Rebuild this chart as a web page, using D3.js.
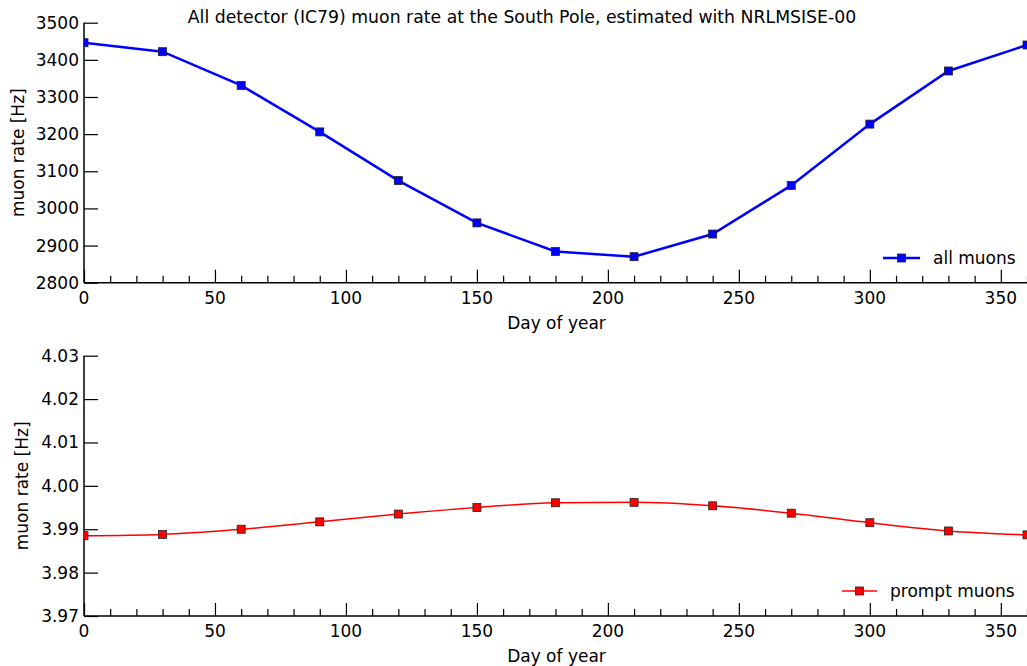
<!DOCTYPE html>
<html>
<head>
<meta charset="utf-8">
<script src="https://cdn.jsdelivr.net/npm/d3@7"></script>
<style>
  body { margin: 0; background: #fff; }
  text { font-family: "DejaVu Sans", sans-serif; fill: #000; font-size: 17px; }
</style>
</head>
<body>
<svg id="chart" width="1027" height="666"></svg>
<script>
const days = [ 0, 30, 60, 90, 120, 150, 180, 210, 240, 270, 300, 330, 360 ];
const allMuons = [ 3446, 3422, 3331, 3206, 3075, 2961, 2884, 2870, 2931, 3062, 3227, 3370, 3440 ];
const promptMuons = [ 3.9885, 3.9888, 3.9900, 3.9917, 3.9935, 3.9950, 3.9961, 3.9962, 3.9954, 3.9937, 3.9915, 3.9896, 3.9887 ];
const xTicks = [ 0, 50, 100, 150, 200, 250, 300, 350 ];
const topTicks = [ 2800, 2900, 3000, 3100, 3200, 3300, 3400, 3500 ];
const bottomTicks = [ 3.97, 3.98, 3.99, 4.00, 4.01, 4.02, 4.03 ];

const svg = d3.select( "#chart" );
const LEFT = 84;
const RIGHT = 1027;

const panels = [
  {
    top: 22.7, bottom: 282.7, domain: [ 2800, 3500 ], ticks: topTicks, fmt: d3.format( "d" ),
    values: allMuons, color: "#0000ff", width: 2.5, curve: d3.curveLinear,
    label: "all muons", legendX: 883, legendY: 258, lineLen: 37, ylabelX: 18,
  },
  {
    top: 355.7, bottom: 616, domain: [ 3.97, 4.03 ], ticks: bottomTicks, fmt: d3.format( ".2f" ),
    values: promptMuons, color: "#ff0000", width: 1.5, curve: d3.curveMonotoneX,
    label: "prompt muons", legendX: 842, legendY: 591, lineLen: 35, ylabelX: 22,
  },
];

svg.append( "text" )
  .attr( "x", 522 )
  .attr( "y", 23 )
  .attr( "text-anchor", "middle" )
  .style( "font-size", "17.3px" )
  .text( "All detector (IC79) muon rate at the South Pole, estimated with NRLMSISE-00" );

panels.forEach( ( p, i ) => {
  const x = d3.scaleLinear().domain( [ 0, 360 ] ).range( [ LEFT, RIGHT ] );
  const y = d3.scaleLinear().domain( p.domain ).range( [ p.bottom, p.top ] );
  const g = svg.append( "g" );

  g.append( "clipPath" ).attr( "id", `clip${i}` )
    .append( "rect" )
    .attr( "x", LEFT ).attr( "y", p.top - 10 )
    .attr( "width", RIGHT - LEFT ).attr( "height", p.bottom - p.top + 10 );

  // x axis: minor ticks every 10, major every 50, pointing inwards
  const xAxis = g.append( "g" ).attr( "transform", `translate(0,${p.bottom})` );
  xAxis.call( d3.axisTop( x ).tickValues( d3.range( 0, 361, 10 ) ).tickSize( 7 ).tickFormat( "" ) );
  xAxis.call( g2 => g2.selectAll( ".tick line" ).filter( d => d % 50 === 0 ).attr( "y2", -13 ) );
  xAxis.selectAll( ".tick line" ).attr( "stroke-width", 1.2 );
  xAxis.select( ".domain" ).attr( "d", `M${LEFT},0H${RIGHT}` ).attr( "stroke-width", 1.5 );

  g.selectAll( ".xlab" ).data( xTicks ).join( "text" )
    .attr( "x", d => x( d ) )
    .attr( "y", p.bottom + 21 )
    .attr( "text-anchor", "middle" )
    .text( d => d );

  g.append( "text" )
    .attr( "x", ( LEFT + RIGHT ) / 2 + 1 )
    .attr( "y", p.bottom + 46 )
    .attr( "text-anchor", "middle" )
    .text( "Day of year" );

  // y axis
  const yAxis = g.append( "g" ).attr( "transform", `translate(${LEFT},0)` );
  yAxis.call( d3.axisRight( y ).tickValues( p.ticks ).tickSize( 14 ).tickFormat( "" ) );
  yAxis.selectAll( ".tick line" ).attr( "stroke-width", 1.2 );
  yAxis.select( ".domain" ).attr( "d", `M0,${p.top}V${p.bottom}` ).attr( "stroke-width", 1.5 );

  g.selectAll( ".ylab" ).data( p.ticks ).join( "text" )
    .attr( "x", LEFT - 5 )
    .attr( "y", d => y( d ) + 6 )
    .attr( "text-anchor", "end" )
    .text( d => p.fmt( d ) );

  g.append( "text" )
    .attr( "transform", `translate(${p.ylabelX + 6},${( p.top + p.bottom ) / 2}) rotate(-90)` )
    .attr( "text-anchor", "middle" )
    .text( "muon rate [Hz]" );

  const data = days.map( ( d, j ) => ( { x: d, y: p.values[j] } ) );
  const line = d3.line().x( d => x( d.x ) ).y( d => y( d.y ) ).curve( p.curve );
  const plot = g.append( "g" ).attr( "clip-path", `url(#clip${i})` );

  plot.append( "path" )
    .attr( "d", line( data ) )
    .attr( "fill", "none" )
    .attr( "stroke", p.color )
    .attr( "stroke-width", p.width );

  plot.selectAll( "rect" ).data( data ).join( "rect" )
    .attr( "x", d => x( d.x ) - 4 )
    .attr( "y", d => y( d.y ) - 4 )
    .attr( "width", 8 ).attr( "height", 8 )
    .attr( "fill", p.color )
    .attr( "stroke", "#222" )
    .attr( "stroke-width", 0.8 );

  // legend
  const lg = g.append( "g" ).attr( "transform", `translate(${p.legendX},${p.legendY})` );
  lg.append( "line" ).attr( "x1", 0 ).attr( "x2", p.lineLen )
    .attr( "stroke", p.color ).attr( "stroke-width", p.width );
  lg.append( "rect" )
    .attr( "x", p.lineLen / 2 - 4 ).attr( "y", -4 )
    .attr( "width", 8 ).attr( "height", 8 )
    .attr( "fill", p.color ).attr( "stroke", "#222" ).attr( "stroke-width", 0.8 );
  lg.append( "text" )
    .attr( "x", p.lineLen + 13 ).attr( "y", 6 )
    .text( p.label );
} );
</script>
</body>
</html>
